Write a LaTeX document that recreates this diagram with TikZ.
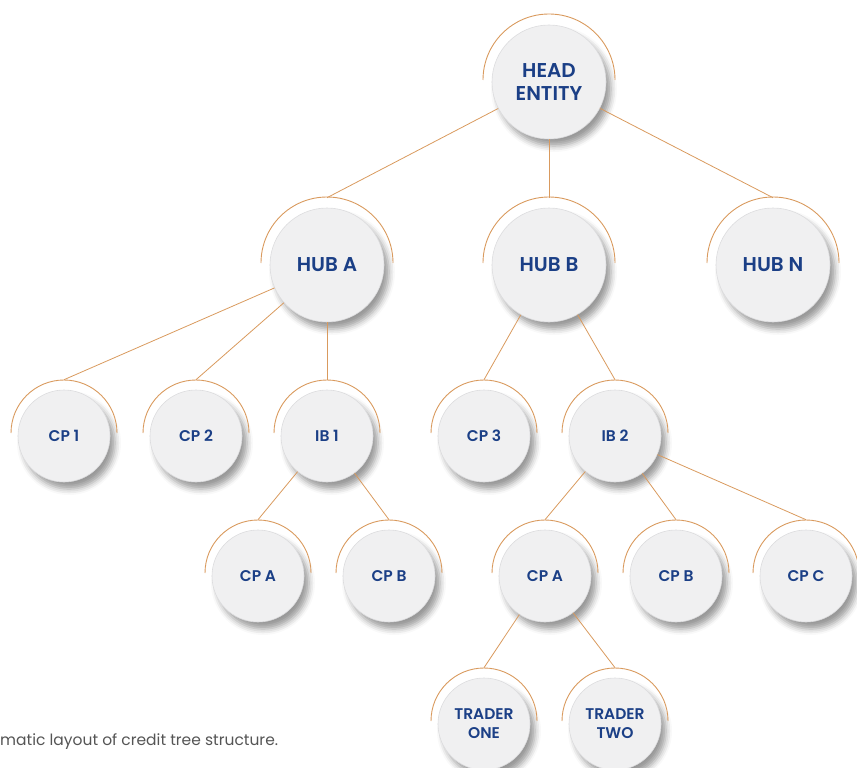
\documentclass[tikz,border=0pt]{standalone}
\usepackage{fontspec}
\setmainfont{Poppins}[BoldFont = {Poppins SemiBold}]
\usepackage{xcolor}
\usetikzlibrary{shadows.blur}
\definecolor{ringcolor}{HTML}{D99A5E}
\definecolor{bubblecolor}{HTML}{F0F0F1}
\definecolor{edgecolor}{HTML}{DCDCDE}
\definecolor{labelcolor}{HTML}{1B3F86}
\definecolor{captioncolor}{HTML}{555555}

\begin{document}
\begin{tikzpicture}[
        bubble/.style = {circle, fill = bubblecolor, draw = edgecolor, line width = 0.6pt,
            text = labelcolor, align = center, inner sep = 0pt,
            blur shadow = {shadow xshift = 5pt, shadow yshift = -7pt,
                shadow blur radius = 6pt, shadow opacity = 40}},
        big/.style = {bubble, minimum size = 114pt, font = \bfseries\fontsize{20}{23}\selectfont},
        small/.style = {bubble, minimum size = 92pt, font = \bfseries\fontsize{15.5}{19}\selectfont},
        ring/.style = {draw = ringcolor, line width = 0.9pt},
        link/.style = {draw = ringcolor, line width = 0.8pt}
    ]
        \useasboundingbox (0pt, 0pt) rectangle (857pt, -768pt);

        % Nodes
        \node [big] (a) at (549pt, -82pt) {HEAD\\ENTITY};
        \node [big] (b) at (327pt, -265pt) {HUB A};
        \node [big] (c) at (549pt, -265pt) {HUB B};
        \node [big] (d) at (773pt, -265pt) {HUB N};
        \node [small] (e) at (64pt, -436pt) {CP 1};
        \node [small] (f) at (196pt, -436pt) {CP 2};
        \node [small] (g) at (327pt, -436pt) {IB 1};
        \node [small] (h) at (484pt, -436pt) {CP 3};
        \node [small] (i) at (615pt, -436pt) {IB 2};
        \node [small] (j) at (258pt, -576pt) {CP A};
        \node [small] (k) at (389pt, -576pt) {CP B};
        \node [small] (l) at (545pt, -576pt) {CP A};
        \node [small] (m) at (676pt, -576pt) {CP B};
        \node [small] (n) at (806pt, -576pt) {CP C};
        \node [small] (o) at (484pt, -724pt) {TRADER\\ONE};
        \node [small] (p) at (615pt, -724pt) {TRADER\\TWO};

        % Rings
        \foreach \n in {a, b, c, d}
            \draw [ring] ([yshift = 2pt] \n.center) ++(0:66pt) arc (0:180:66pt);
        \foreach \n in {e, f, g, h, i, j, k, l, m, n, o, p}
            \draw [ring] ([yshift = 3pt] \n.center) ++(0:53pt) arc (0:180:53pt);

        % Lines
        \draw [link] (a) -- ([yshift = 10pt] b.north);
        \draw [link] (a) -- ([yshift = 10pt] c.north);
        \draw [link] (a) -- ([yshift = 10pt] d.north);
        \draw [link] (b) -- ([yshift = 10pt] e.north);
        \draw [link] (b) -- ([yshift = 10pt] f.north);
        \draw [link] (b) -- ([yshift = 10pt] g.north);
        \draw [link] (c) -- ([yshift = 10pt] h.north);
        \draw [link] (c) -- ([yshift = 10pt] i.north);
        \draw [link] (g) -- ([yshift = 10pt] j.north);
        \draw [link] (g) -- ([yshift = 10pt] k.north);
        \draw [link] (i) -- ([yshift = 10pt] l.north);
        \draw [link] (i) -- ([yshift = 10pt] m.north);
        \draw [link] (i) -- ([yshift = 10pt] n.north);
        \draw [link] (l) -- ([yshift = 10pt] o.north);
        \draw [link] (l) -- ([yshift = 10pt] p.north);

        % Caption
        \node [anchor = base west, inner sep = 0pt, text = captioncolor,
            font = \fontsize{15.5}{18}\selectfont] (cap) at (0pt, -745pt)
            {matic layout of credit tree structure.};

    \end{tikzpicture}
\end{document}
